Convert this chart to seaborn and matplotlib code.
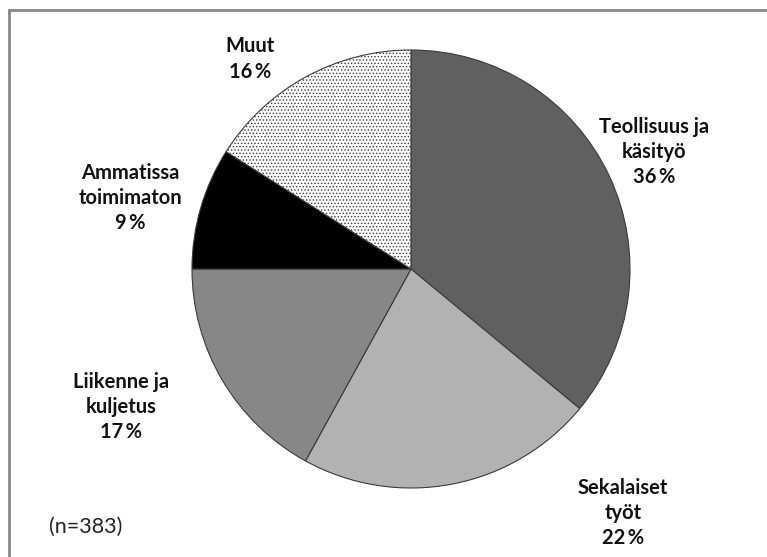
import matplotlib
matplotlib.use("Agg")
import matplotlib.pyplot as plt
import seaborn as sns
from matplotlib.lines import Line2D

categories = ["Teollisuus ja\nkäsityö", "Sekalaiset\ntyöt", "Liikenne ja\nkuljetus",
              "Ammatissa\ntoimimaton", "Muut"]
values = [36, 22, 17, 9, 16]
colors = ["#606060", "#b2b2b2", "#878787", "#000000", "#ffffff"]
hatches = ["", "", "", "", "....."]
note = "(n=383)"

sns.set_theme(style="white")
plt.rcParams["font.family"] = ["Lato", "DejaVu Sans"]
plt.rcParams["hatch.linewidth"] = 0.6
plt.rcParams["hatch.color"] = "#000000"

fig = plt.figure(figsize=(7.67, 5.57), dpi=100)
fig.patch.set_facecolor("white")

ax = fig.add_axes([(411-219)/767, (557-269-219)/557, 438/767, 438/557])
wedges, _ = ax.pie(values, startangle=90, counterclock=False, colors=colors,
                   wedgeprops=dict(edgecolor="#3a3a3a", linewidth=0.8))
for w, h in zip(wedges, hatches):
    if h:
        w.set_hatch(h)
ax.set_xlim(-1, 1)
ax.set_ylim(-1, 1)
ax.set_aspect("equal")
ax.axis("off")

# label centres in figure pixels (layout only)
label_pos = [(654, 152), (623, 513), (121, 407), (130, 198), (250, 59)]
for cat, v, (px, py) in zip(categories, values, label_pos):
    fig.text(px/767, 1 - py/557, f"{cat}\n{v}\u2009%", ha="center", va="center",
             fontsize=14.5, fontweight="bold", color="#111111", linespacing=1.32)

fig.text(49/767, 1 - 527/557, note, ha="left", va="center", fontsize=15.5, color="#222222")

# frame lines (left and top)
fig.add_artist(Line2D([8.5/767, 8.5/767], [0, 1 - 9.5/557], transform=fig.transFigure,
                      color="#888888", linewidth=2))
fig.add_artist(Line2D([8.5/767, 1], [1 - 9.5/557, 1 - 9.5/557], transform=fig.transFigure,
                      color="#888888", linewidth=2))

fig.savefig("out.png", dpi=100)
